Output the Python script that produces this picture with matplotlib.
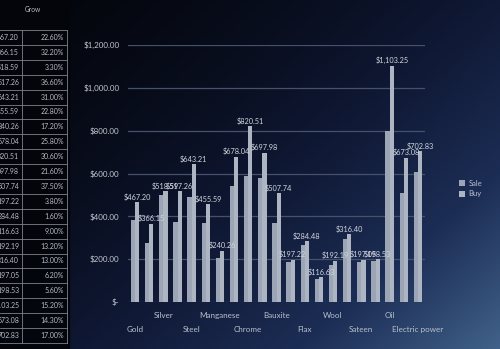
import numpy as np
import matplotlib.pyplot as plt
from matplotlib.colors import LinearSegmentedColormap

plt.rcParams['font.family'] = ['Lato', 'DejaVu Sans']

# Dados do gráfico
categorias = ['Gold', '', 'Silver', '', 'Steel', '', 'Manganese', '', 'Chrome', '',
              'Bauxite', '', 'Flax', '', 'Wool', '', 'Sateen', '', 'Oil', '',
              'Electric power']
venda = [383, 276, 500, 375, 490, 370, 205, 540, 590, 580, 370,
         185, 265, 108, 172, 292, 185, 190, 800, 509, 607]
compra = [467.20, 366.15, 518.59, 517.26, 643.21, 455.59, 240.26, 678.04,
          820.51, 697.98, 507.74, 197.22, 284.48, 116.63, 192.19, 316.40,
          197.05, 198.53, 1103.25, 673.08, 702.83]
crescimento = ['22.60%', '32.20%', '3.30%', '36.60%', '31.00%', '22.80%',
               '17.20%', '25.80%', '30.60%', '21.60%', '37.50%', '3.80%',
               '1.60%', '9.00%', '13.20%', '13.00%', '6.20%', '5.60%',
               '15.20%', '14.30%', '17.00%']
y_ticks = [0, 200, 400, 600, 800, 1000, 1200]

W, H = 500, 349
fig = plt.figure(figsize=(5, 3.49), dpi=100)

# Fundo em degradê
bg = fig.add_axes([0, 0, 1, 1])
xx, yy = np.meshgrid(np.linspace(0, 1, 300), np.linspace(0, 1, 200))
t = np.clip((0.62 * xx + 0.5 * yy) / 1.12, 0, 1) ** 1.6
cmap = LinearSegmentedColormap.from_list('fundo', ['#04060c', '#0e1630', '#1c2d55', '#41628a'])
bg.imshow(t, cmap=cmap, extent=[0, W, H, 0], aspect='auto', interpolation='bilinear')
# área da tabela mais escura
bg.fill_between([0, 69], 0, H, color='#03050a', alpha=0.92)
bg.set_xlim(0, W)
bg.set_ylim(H, 0)
bg.axis('off')

# Tabela parcial à esquerda (cortada na borda)
topo, alt = 30, 14.9
for i in range(len(compra) + 1):
    bg.plot([0, 67], [topo + i * alt] * 2, color='#7c828e', lw=0.6)
for xv in [22, 67]:
    bg.plot([xv, xv], [topo, topo + len(compra) * alt], color='#7c828e', lw=0.6)
for i, (v, g) in enumerate(zip(compra, crescimento)):
    yc = topo + (i + 0.5) * alt
    bg.text(19, yc, f'{v:.2f}', ha='right', va='center', fontsize=5, color='#b8bcc6')
    bg.text(64, yc, g, ha='right', va='center', fontsize=5, color='#b8bcc6')
bg.text(33, 10, 'Grow', ha='center', va='center', fontsize=4.8, color='#b8bcc6')

# Gráfico de colunas
ax = fig.add_axes([128 / W, 1 - 302 / H, (425 - 128) / W, (302 - 45) / H])
ax.patch.set_alpha(0)
x = np.arange(len(compra))
larg = 0.3
b1 = ax.bar(x - larg / 2, venda, larg, color='#9ca5b6', label='Sale', zorder=3)
b2 = ax.bar(x + larg / 2, compra, larg, color='#adb4c2', label='Buy', zorder=3)
ax.bar_label(b2, labels=[f'${v:,.2f}' for v in compra], padding=1,
             fontsize=5.3, color='#d2d6de')

ax.set_xlim(-0.5, len(compra) - 0.5)
ax.set_ylim(0, 1200)
ax.set_yticks(y_ticks)
ax.set_yticklabels(['$-' if v == 0 else f'${v:,.2f}' for v in y_ticks])
ax.grid(axis='y', color='#46516c', lw=0.9, zorder=0)
for s in ax.spines.values():
    s.set_visible(False)

# rótulos escalonados em duas linhas
cima = list(range(2, len(categorias), 4))
baixo = list(range(0, len(categorias), 4))
ax.set_xticks(cima)
ax.set_xticklabels([categorias[i] for i in cima])
ax.set_xticks(baixo, minor=True)
ax.set_xticklabels([categorias[i] for i in baixo], minor=True)
ax.tick_params(axis='x', which='major', length=0, pad=7, labelsize=5.8, colors='#b9c0cc')
ax.tick_params(axis='x', which='minor', length=0, pad=17, labelsize=5.8, colors='#b9c0cc')
ax.tick_params(axis='y', length=0, pad=6, labelsize=5.8, colors='#c3c8d2')

fig.legend(loc='upper left', bbox_to_anchor=(0.905, 0.505), frameon=False,
           fontsize=5.5, labelcolor='#b9c0cc', handlelength=0.8, handleheight=0.8,
           handletextpad=0.4, labelspacing=0.5)

plt.savefig('out.png', dpi=100)
